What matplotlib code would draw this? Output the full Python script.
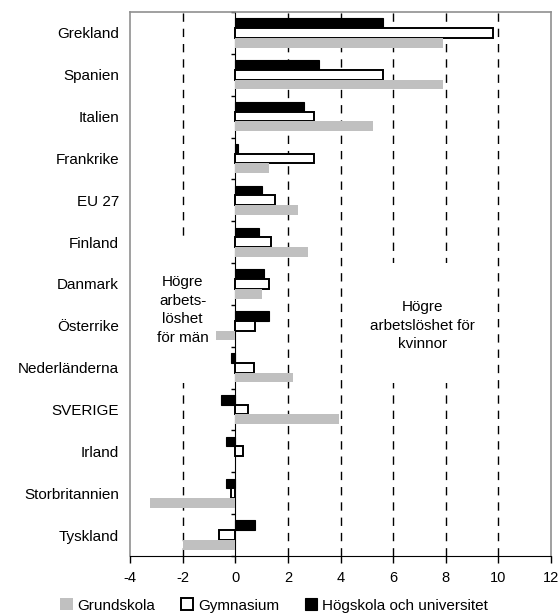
import matplotlib.pyplot as plt
from matplotlib.patches import Rectangle
import numpy as np

plt.rcParams['font.family'] = ['Liberation Sans', 'DejaVu Sans']

# categories top to bottom
countries = ['Grekland', 'Spanien', 'Italien', 'Frankrike', 'EU 27', 'Finland', 'Danmark',
             'Österrike', 'Nederländerna', 'SVERIGE', 'Irland', 'Storbritannien', 'Tyskland']
grundskola = [7.9, 7.9, 5.25, 1.3, 2.4, 2.75, 1.0, -0.75, 2.2, 3.95, 0.0, -3.25, -2.0]
gymnasium = [9.8, 5.6, 3.0, 3.0, 1.5, 1.35, 1.3, 0.75, 0.7, 0.5, 0.3, -0.15, -0.6]
hogskola = [5.6, 3.2, 2.6, 0.1, 1.0, 0.9, 1.1, 1.3, -0.15, -0.55, -0.35, -0.35, 0.75]
xticks = [-4, -2, 0, 2, 4, 6, 8, 10, 12]

fig = plt.figure(figsize=(5.59, 6.14), dpi=100)
ax = fig.add_axes([0.2326, 0.0945, 0.7531, 0.886])

y = np.arange(len(countries))
h = 0.233
ax.barh(y - h, hogskola, height=h, color='black', edgecolor='black', lw=0.8, label='Högskola och universitet', zorder=3)
ax.barh(y, gymnasium, height=h, color='white', edgecolor='black', lw=1.4, label='Gymnasium', zorder=3)
ax.barh(y + h, grundskola, height=h, color='#c0c0c0', edgecolor='none', label='Grundskola', zorder=3)

ax.set_xlim(-4, 12)
ax.set_ylim(12.5, -0.5)
ax.set_xticks(xticks)
ax.set_xticklabels([str(t) for t in xticks], fontsize=10.5)
ax.set_yticks(y)
ax.set_yticklabels(countries, fontsize=11)
ax.tick_params(axis='y', length=0, pad=8)
ax.tick_params(axis='x', length=5, width=1, direction='out', pad=6)

for v in [-2, 2, 4, 6, 8, 10]:
    ax.axvline(v, color='black', ls=(0, (6, 5)), lw=1, zorder=1)

for s in ['left', 'top', 'right']:
    ax.spines[s].set_color('#909090')
    ax.spines[s].set_linewidth(1.2)
ax.spines['bottom'].set_color('black')

# zero axis with category ticks
sec = ax.secondary_yaxis(0.25)
sec.set_yticks(np.arange(-0.5, 13, 1))
sec.set_yticklabels([])
sec.tick_params(length=3, width=1, direction='out', color='black')
sec.spines['left'].set_color('black')
sec.spines['left'].set_zorder(4)

# white text boxes covering gridlines
ax.add_patch(Rectangle((-3.5, 5.0), 2.9, 3.36, facecolor='white', edgecolor='none', zorder=2))
ax.add_patch(Rectangle((4.6, 5.5), 4.8, 2.86, facecolor='white', edgecolor='none', zorder=2))
ax.text(-2, 6.62, 'Högre\narbets-\nlöshet\nför män', ha='center', va='center',
        fontsize=11, linespacing=1.4, zorder=5)
ax.text(7.1, 7.0, 'Högre\narbetslöshet för\nkvinnor', ha='center', va='center',
        fontsize=11, linespacing=1.4, zorder=5)

handles, labels = ax.get_legend_handles_labels()
fig.legend(handles[::-1], labels[::-1], loc='lower center', bbox_to_anchor=(0.49, -0.02),
           ncol=3, frameon=False, fontsize=11, handlelength=0.8, handleheight=0.8,
           handletextpad=0.3, columnspacing=1.7)

fig.savefig('out.png', dpi=100)
